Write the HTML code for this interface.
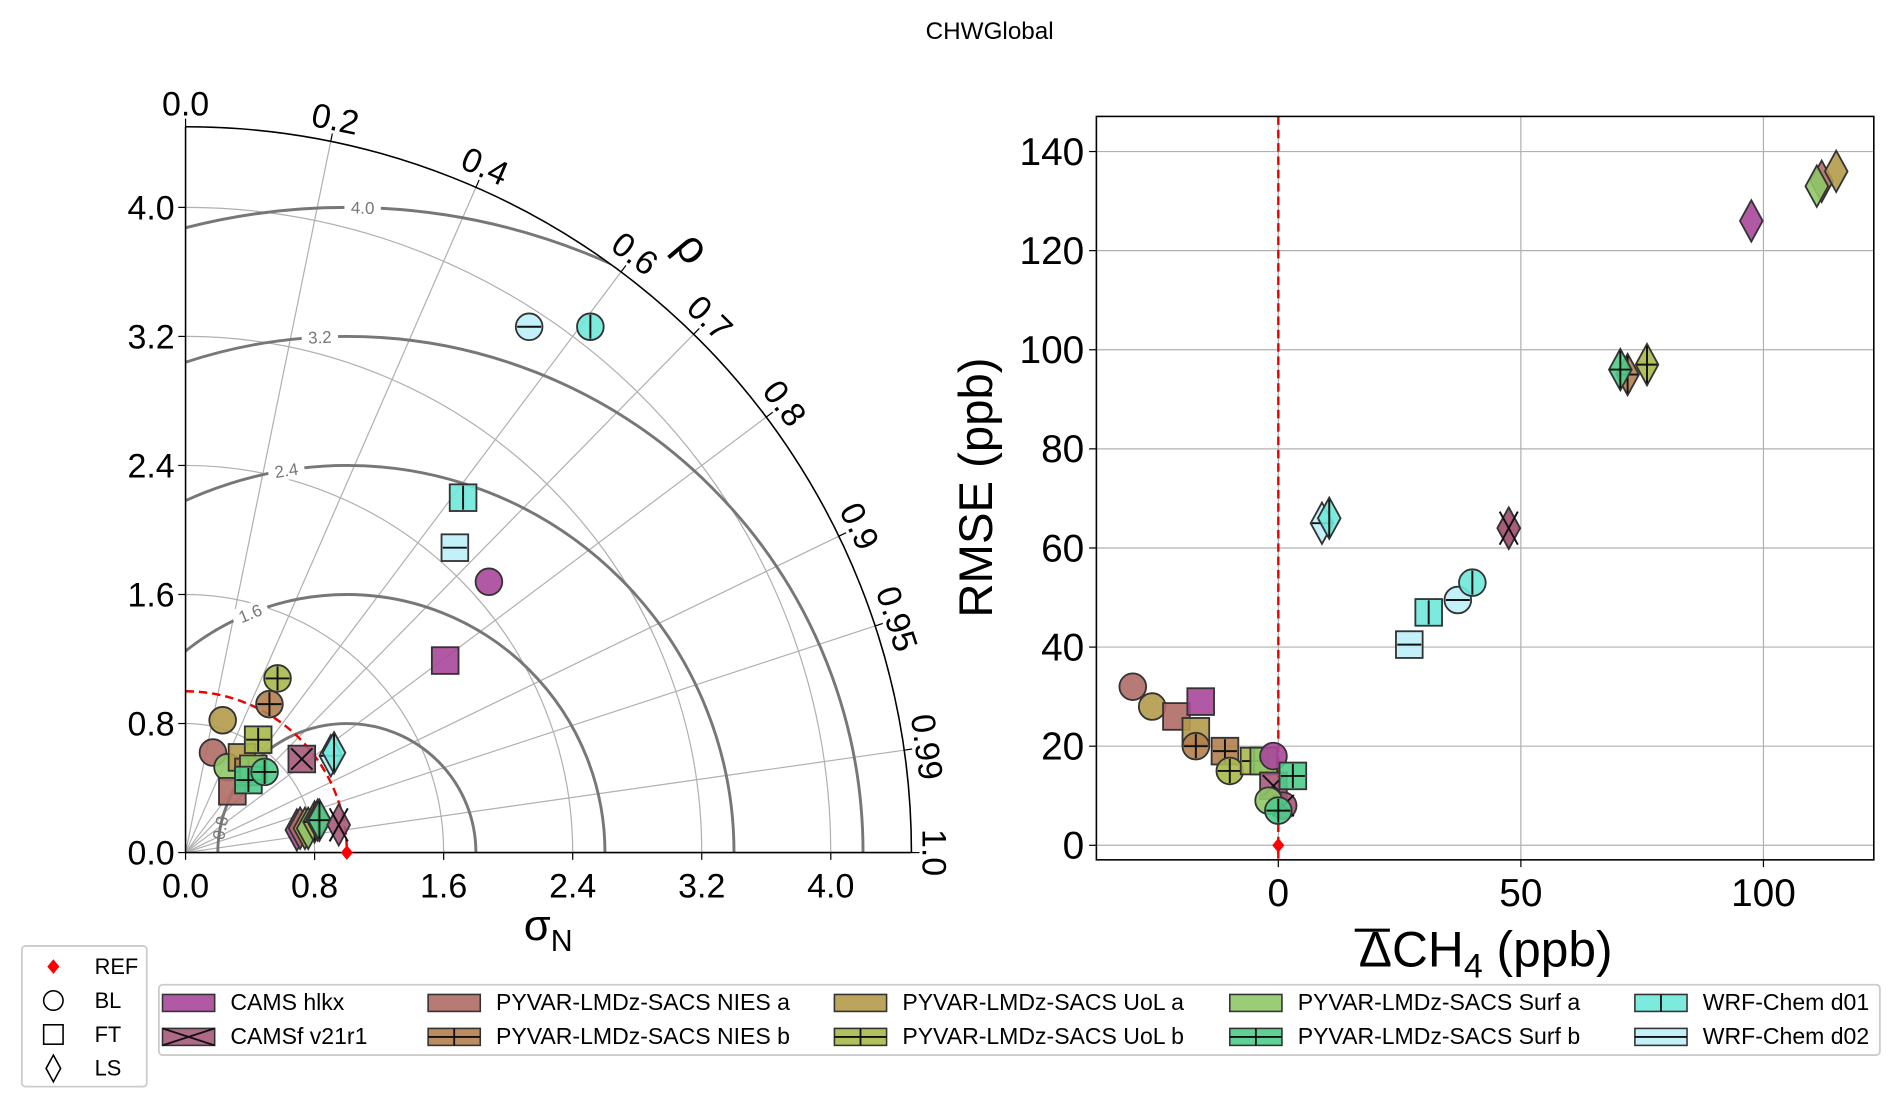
<!DOCTYPE html>
<html><head><meta charset="utf-8"><style>
html,body{margin:0;padding:0;background:#fff;overflow:hidden;width:1892px;height:1103px}
svg{display:block}
text{font-family:"Liberation Sans","DejaVu Sans",sans-serif;fill:#000}
</style></head><body>
<svg id="fig" width="1892" height="1103" viewBox="0 0 1560 909.5" preserveAspectRatio="none" xmlns="http://www.w3.org/2000/svg">
<text x="816" y="32" font-size="20" text-anchor="middle">CHWGlobal</text>
<g id="taylor"></g>
<g id="scatter"></g>
<g id="legend"></g>
</svg>
<script>
// ---------- data ----------
const modelNames = ["CAMS hlkx","CAMSf v21r1","PYVAR-LMDz-SACS NIES a","PYVAR-LMDz-SACS NIES b","PYVAR-LMDz-SACS UoL a","PYVAR-LMDz-SACS UoL b","PYVAR-LMDz-SACS Surf a","PYVAR-LMDz-SACS Surf b","WRF-Chem d01","WRF-Chem d02"];
const modelColors = ["#a8479b","#a65a7a","#b06b66","#b3804f","#b49a4a","#a9b94a","#8fc866","#4fcc88","#6fe8da","#bdeffa"];
const modelHatch = ["","x","","+","","+","","+","|","-"];
// Taylor: model index, shape, normalised std, correlation
const tayModel = [9,8,2,4,6,4,2,3,6,5,7,5,3,7,8,9,0,0,1,9,8,0,2,4,6,5,3,7,1];
const tayShape = ["o","o","o","o","o","s","s","s","s","s","s","o","o","o","s","s","s","o","s","d","d","d","d","d","d","d","d","d","d"];
const tayStd   = [3.894,4.114,0.643,0.852,0.590,0.686,0.478,0.634,0.668,0.832,0.595,1.221,1.057,0.700,2.793,2.522,2.002,2.521,0.925,1.082,1.109,0.704,0.726,0.755,0.775,0.822,0.844,0.854,0.965];
const tayCorr  = [0.547,0.610,0.264,0.270,0.441,0.510,0.607,0.615,0.629,0.541,0.655,0.467,0.492,0.700,0.616,0.662,0.804,0.746,0.779,0.832,0.830,0.980,0.978,0.980,0.981,0.973,0.971,0.972,0.984];
const stdTicks = [0,0.8,1.6,2.4,3.2,4.0];
const corrTicks = [0.0,0.2,0.4,0.6,0.7,0.8,0.9,0.95,0.99,1.0];
const rmsLevels = [0.8,1.6,2.4,3.2,4.0];
// Scatter: model index, shape, mean bias, RMSE
const scModel = [2,4,2,0,4,3,3,5,5,6,0,1,1,6,7,7,9,8,9,8,9,8,2,1,3,7,5,0,2,6,4];
const scShape = ["o","o","s","s","s","o","s","o","s","s","o","s","o","o","o","s","s","s","o","o","d","d","d","d","d","d","d","d","d","d","d"];
const scBias  = [-30,-26,-21,-16,-17,-17,-11,-10,-5,-3,-1,-1,1,-2,0,3,27,31,37,40,9,10.5,47.5,47.5,72,70.5,76,97.5,112,111,115];
const scRmse  = [32,28,26,29,23,20,19,15,17,17,18,12,8,9,7,14,40.5,47,49.5,53,65,66,64,64,95,96,97,126,134,133,136];
const xTicks = [0,50,100];
const yTicks = [0,20,40,60,80,100,120,140];

// ---------- helpers ----------
const NS="http://www.w3.org/2000/svg";
function el(tag,attrs,parent){const e=document.createElementNS(NS,tag);for(const k in attrs)e.setAttribute(k,attrs[k]);parent.appendChild(e);return e;}
function marker(parent,shape,cx,cy,fill,hatch,size){
  const g=el("g",{},parent);
  const h=size;let bw=h,bh=h;
  if(shape==="o")el("circle",{cx:cx,cy:cy,r:h,fill:fill,"fill-opacity":0.9,stroke:"#333","stroke-width":1.5},g);
  else if(shape==="s")el("rect",{x:cx-h,y:cy-h,width:2*h,height:2*h,fill:fill,"fill-opacity":0.9,stroke:"#333","stroke-width":1.5},g);
  else {bw=h*0.85;bh=h*1.55;el("polygon",{points:`${cx},${cy-bh} ${cx+bw},${cy} ${cx},${cy+bh} ${cx-bw},${cy}`,fill:fill,"fill-opacity":0.9,stroke:"#333","stroke-width":1.5},g);}
  const st={stroke:"#111","stroke-width":1.6};
  if(hatch==="+"||hatch==="|")el("line",Object.assign({x1:cx,y1:cy-bh*0.9,x2:cx,y2:cy+bh*0.9},st),g);
  if(hatch==="+"||hatch==="-")el("line",Object.assign({x1:cx-bw*0.9,y1:cy,x2:cx+bw*0.9,y2:cy},st),g);
  if(hatch==="x"){el("line",Object.assign({x1:cx-bw*0.8,y1:cy-bh*0.8,x2:cx+bw*0.8,y2:cy+bh*0.8},st),g);el("line",Object.assign({x1:cx-bw*0.8,y1:cy+bh*0.8,x2:cx+bw*0.8,y2:cy-bh*0.8},st),g);}
  return g;
}

// ---------- Taylor ----------
(function(){
const T=document.getElementById("taylor");
const ox=153,oy=703,S=133,SMAX=4.5,R=SMAX*S;
const px=(s,c)=>ox+s*c*S, py=(s,c)=>oy-s*Math.sqrt(Math.max(0,1-c*c))*S;
const defs=el("defs",{},T);
const cp=el("clipPath",{id:"qclip"},defs);
el("path",{d:`M${ox},${oy} L${ox},${oy-R} A${R},${R} 0 0 1 ${ox+R},${oy} Z`},cp);
stdTicks.forEach(s=>{if(s>0){const g=el("path",{d:`M${ox},${oy-s*S} A${s*S},${s*S} 0 0 1 ${ox+s*S},${oy}`,fill:"none",stroke:"#b0b0b0","stroke-width":1},T);}});
corrTicks.forEach(c=>{if(c>0&&c<1){const l=el("line",{x1:ox,y1:oy,x2:px(SMAX,c),y2:py(SMAX,c),stroke:"#b0b0b0","stroke-width":1},T);}});
const rg=el("g",{"clip-path":"url(#qclip)"},T);
rmsLevels.forEach(r=>{const c=el("circle",{cx:ox+1*S,cy:oy,r:r*S,fill:"none",stroke:"#777","stroke-width":2.4},rg);});
const labAng=[169,112,99,93,88.6];
rmsLevels.forEach((r,i)=>{const a=labAng[i]*Math.PI/180;const x=ox+(1+r*Math.cos(a))*S,y=oy-r*Math.sin(a)*S;
 const rot=90-labAng[i];const gg=el("g",{transform:`translate(${x},${y}) rotate(${i===0?-90+(180-labAng[i]):rot})`},T);
 if(i>0)el("rect",{x:-15,y:-8,width:30,height:16,fill:"#fff"},gg);
 const t=el("text",{x:0,y:5,"font-size":14,"text-anchor":"middle",fill:"#777"},gg);t.style.fill="#777";t.textContent=r.toFixed(1);
 });
const rc=el("path",{d:`M${ox},${oy-S} A${S},${S} 0 0 1 ${ox+S},${oy}`,fill:"none",stroke:"#e00","stroke-width":2,"stroke-dasharray":"7,4"},T);

el("path",{d:`M${ox},${oy-R} A${R},${R} 0 0 1 ${ox+R},${oy}`,fill:"none",stroke:"#000","stroke-width":1.3},T);
el("line",{x1:ox,y1:oy,x2:ox,y2:oy-R,stroke:"#000","stroke-width":1.3},T);
el("line",{x1:ox,y1:oy,x2:ox+R,y2:oy,stroke:"#000","stroke-width":1.3},T);
stdTicks.forEach(s=>{
 el("line",{x1:ox+s*S,y1:oy,x2:ox+s*S,y2:oy+6,stroke:"#000"},T);
 el("line",{x1:ox,y1:oy-s*S,x2:ox-6,y2:oy-s*S,stroke:"#000"},T);
 const tx=el("text",{x:ox+s*S,y:oy+37,"font-size":28,"text-anchor":"middle"},T);tx.textContent=s.toFixed(1);
 
 const ty=el("text",{x:ox-9,y:oy-s*S+10,"font-size":28,"text-anchor":"end"},T);ty.textContent=s.toFixed(1);
 
});
corrTicks.forEach(c=>{const th=Math.acos(c);
 el("line",{x1:px(SMAX,c),y1:py(SMAX,c),x2:px(SMAX+0.05,c),y2:py(SMAX+0.05,c),stroke:"#000"},T);
 const x=px(SMAX+0.07,c),y=py(SMAX+0.07,c);const rot=90-th*180/Math.PI;
 const t=el("text",{transform:`translate(${x},${y}) rotate(${rot})`,x:0,y:0,"font-size":28,"text-anchor":"middle"},T);
 t.textContent=String(c===0?"0.0":c===1?"1.0":c);
 });
const rho=el("text",{transform:`translate(${px(SMAX+0.3,0.64)},${py(SMAX+0.3,0.64)}) rotate(50)`,"font-size":38,"text-anchor":"middle"},T);rho.textContent="ρ";

const sg=el("text",{x:452,y:775,"font-size":36,"text-anchor":"middle"},T);sg.innerHTML='σ<tspan font-size="25" dy="9">N</tspan>';

const mg=el("g",{"clip-path":"url(#qclip)"},T);
tayModel.forEach((m,i)=>{const g=marker(mg,tayShape[i],px(tayStd[i],tayCorr[i]),py(tayStd[i],tayCorr[i]),modelColors[m],modelHatch[m],11);
 });
const ref=el("polygon",{points:`${ox+S},${oy-6} ${ox+S+5},${oy} ${ox+S},${oy+6} ${ox+S-5},${oy}`,fill:"#f00"},T);

})();

// ---------- Scatter ----------
(function(){
const G=document.getElementById("scatter");
const L=904,Rr=1545,Tp=96,B=709;
const xs=v=>1054+v*4.0, ys=v=>697-v*4.086;
const cp=el("clipPath",{id:"sclip"},el("defs",{},G));el("rect",{x:L,y:Tp,width:Rr-L,height:B-Tp},cp);
yTicks.forEach(v=>{el("line",{x1:L,x2:Rr,y1:ys(v),y2:ys(v),stroke:"#b0b0b0","stroke-width":1},G);
 el("line",{x1:L-6,x2:L,y1:ys(v),y2:ys(v),stroke:"#000"},G);
 const t=el("text",{x:L-10,y:ys(v)+11,"font-size":32,"text-anchor":"end"},G);t.textContent=v;
 });
xTicks.forEach(v=>{el("line",{y1:Tp,y2:B,x1:xs(v),x2:xs(v),stroke:"#b0b0b0","stroke-width":1},G);
 el("line",{y1:B,y2:B+6,x1:xs(v),x2:xs(v),stroke:"#000"},G);
 const t=el("text",{x:xs(v),y:B+38,"font-size":32,"text-anchor":"middle"},G);t.textContent=v;
 });
const zl=el("line",{x1:xs(0),x2:xs(0),y1:Tp,y2:B,stroke:"#e00","stroke-width":2,"stroke-dasharray":"7,4"},G);

const mg=el("g",{"clip-path":"url(#sclip)"},G);
scModel.forEach((m,i)=>{const g=marker(mg,scShape[i],xs(scBias[i]),ys(scRmse[i]),modelColors[m],modelHatch[m],11);
 });
const ref=el("polygon",{points:`${xs(0)},${ys(0)-6} ${xs(0)+5},${ys(0)} ${xs(0)},${ys(0)+6} ${xs(0)-5},${ys(0)}`,fill:"#f00"},G);

el("rect",{x:L,y:Tp,width:Rr-L,height:B-Tp,fill:"none",stroke:"#000","stroke-width":1.3},G);
const yt=el("text",{transform:"translate(818,402) rotate(-90)","font-size":39,"text-anchor":"middle"},G);yt.textContent="RMSE (ppb)";

const xt=el("text",{x:1225,y:797,"font-size":41,"text-anchor":"middle"},G);xt.innerHTML='ΔCH<tspan font-size="28" dy="9">4</tspan><tspan dy="-9"> (ppb)</tspan>';

el("line",{x1:1117,x2:1146,y1:767,y2:767,stroke:"#000","stroke-width":2.5},G);
})();

// ---------- Legends ----------
(function(){
const G=document.getElementById("legend");
const b1=el("rect",{x:18,y:780,width:103,height:116,rx:3,fill:"#fff",stroke:"#ccc","stroke-width":1.5},G);

const shp=[["REF","r"],["BL","o"],["FT","s"],["LS","d"]];
shp.forEach((s,i)=>{const y=797+i*28,x=44;
 if(s[1]==="r")el("polygon",{points:`${x},${y-6} ${x+5},${y} ${x},${y+6} ${x-5},${y}`,fill:"#f00"},G);
 else if(s[1]==="o")el("circle",{cx:x,cy:y,r:8,fill:"none",stroke:"#000","stroke-width":1.3},G);
 else if(s[1]==="s")el("rect",{x:x-8,y:y-8,width:16,height:16,fill:"none",stroke:"#000","stroke-width":1.3},G);
 else el("polygon",{points:`${x},${y-11} ${x+6},${y} ${x},${y+11} ${x-6},${y}`,fill:"none",stroke:"#000","stroke-width":1.3},G);
 const t=el("text",{x:78,y:y+6,"font-size":18},G);t.textContent=s[0];
 });
const b2=el("rect",{x:131,y:812,width:1419,height:58,rx:3,fill:"#fff",stroke:"#ccc","stroke-width":1.5},G);

const colX=[134,353,688,1014,1348];
modelNames.forEach((n,i)=>{const c=Math.floor(i/2),r=i%2;const x=colX[c],y=827+r*28;
 el("rect",{x:x,y:y-7,width:43,height:14,fill:modelColors[i],"fill-opacity":0.9,stroke:"#333","stroke-width":1.3},G);
 const h=modelHatch[i];const cx=x+21.5;
 if(h==="+"||h==="|")el("line",{x1:cx,x2:cx,y1:y-7,y2:y+7,stroke:"#111","stroke-width":1.5},G);
 if(h==="+"||h==="-")el("line",{x1:x,x2:x+43,y1:y,y2:y,stroke:"#111","stroke-width":1.5},G);
 if(h==="x"){el("line",{x1:x,x2:x+43,y1:y-7,y2:y+7,stroke:"#111","stroke-width":1.5},G);el("line",{x1:x,x2:x+43,y1:y+7,y2:y-7,stroke:"#111","stroke-width":1.5},G);}
 const t=el("text",{x:x+56,y:y+6,"font-size":19},G);t.textContent=n;
 });
})();
</script>
</body></html>
